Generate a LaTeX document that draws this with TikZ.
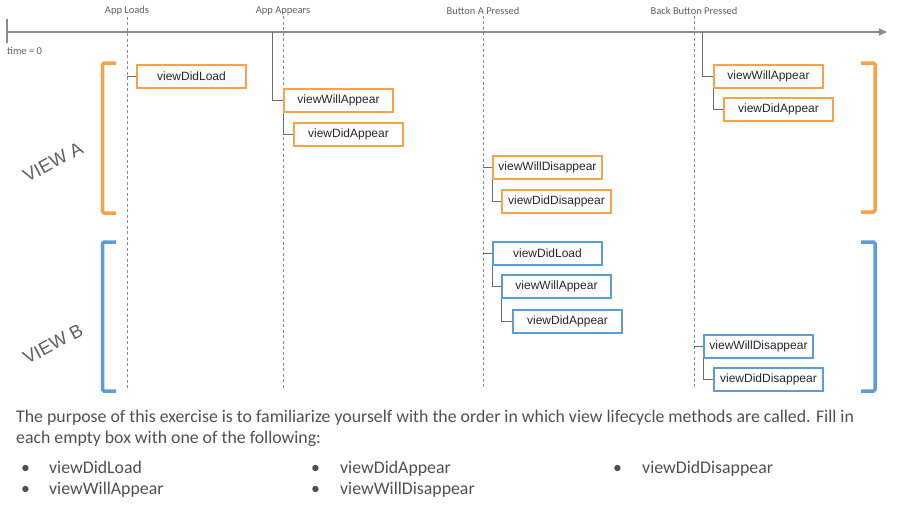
\documentclass[tikz,border=0pt]{standalone}
\usepackage{fontspec}
\setmainfont{Carlito}
\newfontfamily\boxfont{Liberation Sans}
\usetikzlibrary{arrows.meta}
\definecolor{orng}{RGB}{247,163,74}
\definecolor{blu}{RGB}{92,156,216}
\definecolor{lgray}{RGB}{140,140,140}
\definecolor{tgray}{RGB}{95,95,95}
\definecolor{bodygray}{RGB}{80,80,80}
\begin{document}
\begin{tikzpicture}[x=1pt,y=-1pt,
 lbox/.style={draw, line width=2pt, minimum width=109pt, minimum height=22.5pt, inner sep=0pt, outer sep=1pt, anchor=north west, font=\boxfont\fontsize{12}{14}\selectfont, text=black!85},
 obox/.style={lbox, draw=orng},
 bbox/.style={lbox, draw=blu},
 conn/.style={draw=gray!85!black, line width=0.9pt},
 tline/.style={draw=lgray, line width=1.3pt},
 dline/.style={draw=lgray, line width=1pt, dash pattern=on 3pt off 2.5pt},
 evlabel/.style={font=\fontsize{10.5}{12}\selectfont, text=tgray, inner sep=1pt},
 obr/.style={draw=orng, line width=3.5pt, rounded corners=1.5pt},
 bbr/.style={draw=blu, line width=3.5pt, rounded corners=1.5pt},
 viewlabel/.style={font=\boxfont\fontsize{18.5}{22}\selectfont, text=tgray, rotate=28},
 body/.style={font=\fontsize{17.8}{20}\selectfont, text=bodygray, anchor=base west, inner sep=0pt}]
\useasboundingbox (0,0) rectangle (900,506);
% timeline
\coordinate (t0) at (7,32);
\coordinate (tE) at (887,32);
\draw[tline, -{Triangle[length=8pt,width=7pt]}] (t0) -- (tE);
\coordinate (tk1) at (7,19);
\coordinate (tk2) at (7,43);
\draw[tline] (tk1) -- (tk2);
\node[evlabel, anchor=west] (tz) at (6,51) {time = 0};
% events
\node[evlabel] (ev1) at (127,11) {App Loads};
\node[evlabel] (ev2) at (283,11) {App Appears};
\node[evlabel] (ev3) at (483,11) {Button A Pressed};
\node[evlabel] (ev4) at (694,11) {Back Button Pressed};
\coordinate (bot) at (0,388);
\foreach \e in {ev1,ev2,ev3,ev4}{
  \draw[dline] (\e.south) -- (\e.south |- bot);
}
% brackets
\draw[obr] (116,63) -- (102.5,63) -- (102.5,213) -- (116,213);
\draw[bbr] (116,242) -- (102.5,242) -- (102.5,391) -- (116,391);
\draw[obr] (861,63) -- (875,63) -- (875,212) -- (861,212);
\draw[bbr] (861,242) -- (875,242) -- (875,391) -- (861,391);
\node[viewlabel] (va) at (53,162) {VIEW A};
\node[viewlabel] (vb) at (53,344) {VIEW B};
% boxes
\node[obox] (oA1) at (136,64) {viewDidLoad};
\node[obox] (oA2) at (283,88) {viewWillAppear};
\node[obox] (oA3) at (293,122) {viewDidAppear};
\node[obox] (oA4) at (492,155) {viewWillDisappear};
\node[obox] (oA5) at (501,189) {viewDidDisappear};
\node[bbox] (bB1) at (492,241) {viewDidLoad};
\node[bbox] (bB2) at (501,274) {viewWillAppear};
\node[bbox] (bB3) at (512,309) {viewDidAppear};
\node[bbox] (bB4) at (703,334) {viewWillDisappear};
\node[bbox] (bB5) at (713,367) {viewDidDisappear};
\node[obox] (oA6) at (713,64) {viewWillAppear};
\node[obox] (oA7) at (723,97) {viewDidAppear};
% connectors
\coordinate (c2) at (272,32);
\coordinate (c4) at (702,32);
\draw[conn] (ev1.south |- oA1.west) -- (oA1.west);
\draw[conn] (c2) |- (oA2.west);
\draw[conn] (oA2.south west) |- (oA3.west);
\draw[conn] (ev3.south |- oA4.west) -- (oA4.west);
\draw[conn] (oA4.south west) |- (oA5.west);
\draw[conn] (ev3.south |- bB1.west) -- (bB1.west);
\draw[conn] (bB1.south west) |- (bB2.west);
\draw[conn] (bB2.south west) |- (bB3.west);
\draw[conn] (ev4.south |- bB4.west) -- (bB4.west);
\draw[conn] (bB4.south west) |- (bB5.west);
\draw[conn] (c4) |- (oA6.west);
\draw[conn] (oA6.south west) |- (oA7.west);
% body text
\node[body] (p1) at (16,422) {The purpose of this exercise is to familiarize yourself with the order in which view lifecycle methods are called. Fill in};
\node[body] (p2) at (16,443) {each empty box with one of the following:};
\node[body] (u1) at (21,473) {•};
\node[body] (l1) at (49,473) {viewDidLoad};
\node[body] (u2) at (21,494) {•};
\node[body] (l2) at (49,494) {viewWillAppear};
\node[body] (u3) at (311,473) {•};
\node[body] (l3) at (340,473) {viewDidAppear};
\node[body] (u4) at (311,494) {•};
\node[body] (l4) at (340,494) {viewWillDisappear};
\node[body] (u5) at (613,473) {•};
\node[body] (l5) at (642,473) {viewDidDisappear};
\end{tikzpicture}
\end{document}
